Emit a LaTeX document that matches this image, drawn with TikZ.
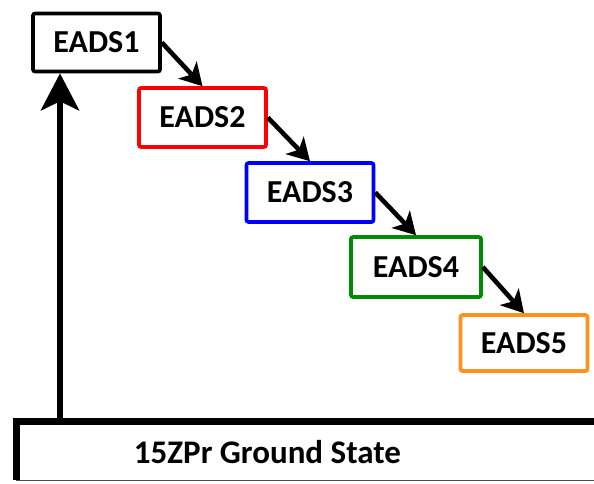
\documentclass[tikz,border=0pt]{standalone}
\usepackage{fontspec}
\setmainfont{Carlito}
\usepackage{xcolor}
\usepackage{tikz}
\usetikzlibrary{arrows.meta, positioning}
\definecolor{edBlack}{HTML}{000000}
\definecolor{edRed}{HTML}{FF0000}
\definecolor{edBlue}{HTML}{0000FF}
\definecolor{edGreen}{HTML}{008C00}
\definecolor{edOrange}{HTML}{FF921E}
\tikzset{
  ed-box/.style={
    rectangle, rounded corners=2pt, line width=3.6pt, fill=white,
    minimum width=127pt, minimum height=58pt, align=center,
    font=\fontsize{32}{36}\selectfont\bfseries
  },
  ed-flow/.style={-{Stealth[length=22pt, width=25pt, inset=6pt]}, line width=4.6pt, draw=edBlack},
  ed-up/.style={-{Stealth[length=37pt, width=38pt, inset=9pt]}, line width=6.5pt, draw=edBlack},
  ed-frame/.style={line width=7pt, draw=edBlack},
}
\begin{document}
\begin{tikzpicture}[x=1pt, y=-1pt]
  \useasboundingbox (0,0) rectangle (594,483);
  \clip (0,0) rectangle (594,483);
  \node[ed-box, draw=edBlack]                       (e1) at (96.5,42.5) {EADS1};
  \node[ed-box, draw=edRed, minimum height=59pt]    (e2) at (202.5,117.5) {EADS2};
  \node[ed-box, draw=edBlue, minimum height=59pt]   (e3) at (310,192.5) {EADS3};
  \node[ed-box, draw=edGreen, minimum width=130pt, minimum height=60pt] (e4) at (416,267) {EADS4};
  \node[ed-box, draw=edOrange, minimum height=56pt] (e5) at (524,343) {EADS5};

  % ground state box, open to the right
  \node[rectangle, anchor=north west, minimum width=640pt, minimum height=59pt] (gnd) at (16,421) {};
  \draw[ed-frame] (gnd.south west) |- (gnd.north east);
  \draw[line width=1pt, draw=edBlack!70] (gnd.south west) -- (gnd.south east);
  \node[font=\fontsize{33}{36}\selectfont\bfseries] (gtxt) at (267.5,452) {15ZPr Ground State};

  \coordinate (up) at (60,421);
  \draw[ed-up] (up) -- (up |- e1.south);
  \draw[ed-flow] (e1.east) -- (e2.north);
  \draw[ed-flow] (e2.east) -- (e3.north);
  \draw[ed-flow] (e3.east) -- (e4.north);
  \draw[ed-flow] (e4.east) -- (e5.north);
\end{tikzpicture}
\end{document}
